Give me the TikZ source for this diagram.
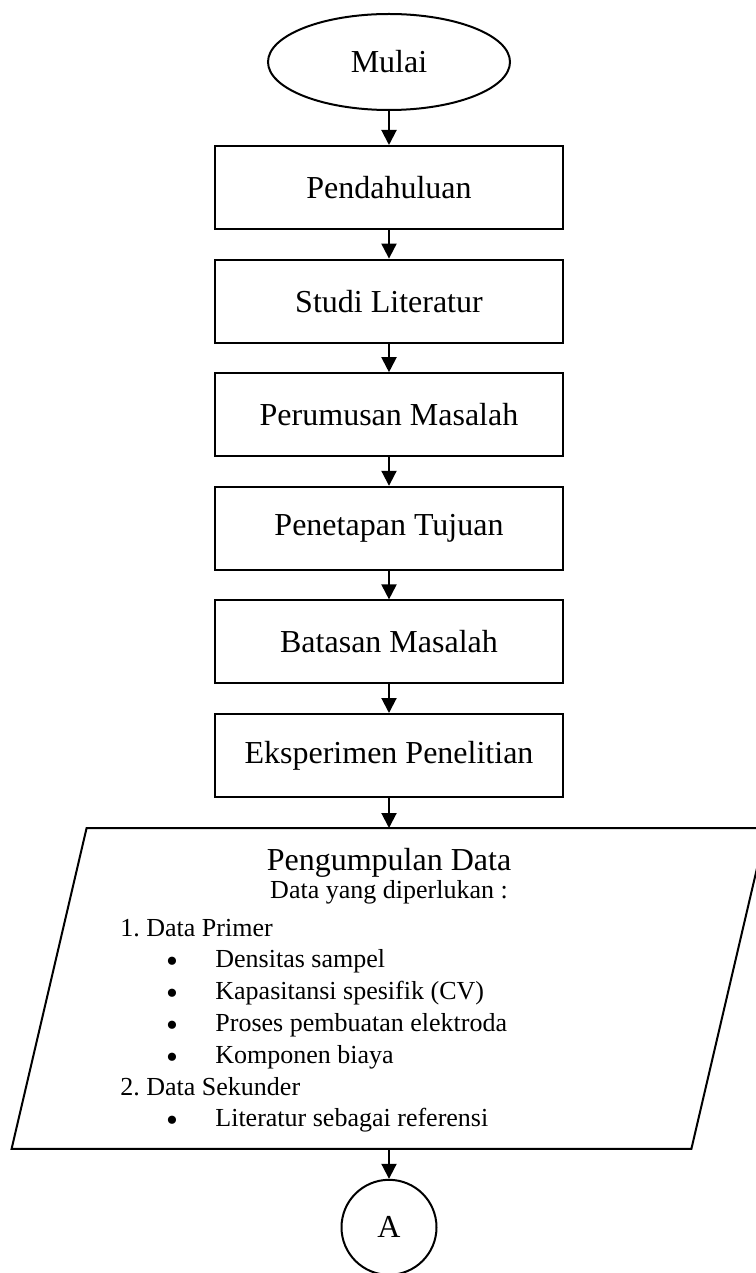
\documentclass[tikz,border=0pt]{standalone}
\usepackage{fontspec}
\setmainfont{Liberation Serif}
\usetikzlibrary{shapes.geometric, arrows.meta, positioning}

\begin{document}
\begin{tikzpicture}[x=0.5pt, y=-0.5pt, font=\fontsize{16}{19}\selectfont,
        mulaiBox/.style={draw, ellipse, line width=1pt, fill=white, minimum width=121pt, minimum height=48pt, inner sep=0pt},
        proses/.style={draw, line width=1pt, fill=white, minimum width=174pt, minimum height=41.5pt, inner sep=0pt},
        konektor/.style={draw, circle, line width=1pt, fill=white, minimum size=47.5pt, inner sep=0pt},
        alur/.style={-{Triangle[length=7.5pt, width=7.5pt]}, line width=1pt},
        isi/.style={anchor=base west, inner sep=0pt, font=\fontsize{13}{15}\selectfont}]
        \useasboundingbox (0,0) rectangle (755,1273);
        \node[mulaiBox] (mulai) at (389,62) {Mulai};
        \node[proses, below=17pt of mulai] (pend) {Pendahuluan};
        \node[proses, below=14.3pt of pend] (studi) {Studi Literatur};
        \node[proses, below=14.3pt of studi] (rumus) {Perumusan Masalah};
        \node[proses, below=14.3pt of rumus] (tujuan) {Penetapan Tujuan};
        \node[proses, below=14.3pt of tujuan] (batas) {Batasan Masalah};
        \node[proses, below=14.3pt of batas] (eks) {Eksperimen Penelitian};
        % pengumpulan data (jajar genjang)
        \node[minimum width=377pt, minimum height=160pt, inner sep=0pt, below=15pt of eks] (data) {};
        \draw[line width=1pt] ([xshift=37.5pt]data.north west) -- (data.north east)
          -- ([xshift=-37.5pt]data.south east) -- (data.south west) -- cycle;
        \node[anchor=base, inner sep=0pt] (judul) at (389,870) {Pengumpulan Data};
        \node[anchor=base, inner sep=0pt, font=\fontsize{13}{15}\selectfont] (perlu) at (389,898) {Data yang diperlukan :};
        \node[isi] (primer) at (120,936) {1.\ Data Primer};
        \node[isi] (d1) at (215,967.8) {Densitas sampel};
        \node[isi] (d2) at (215,999.6) {Kapasitansi spesifik (CV)};
        \node[isi] (d3) at (215,1031.4) {Proses pembuatan elektroda};
        \node[isi] (d4) at (215,1063.2) {Komponen biaya};
        \node[isi] (sekunder) at (120,1095) {2.\ Data Sekunder};
        \node[isi] (d5) at (215,1126.8) {Literatur sebagai referensi};
        \foreach \b in {d1,d2,d3,d4,d5}
          \node[anchor=base, inner sep=0pt, font=\fontsize{17}{20}\selectfont] at ([xshift=-21.5pt, yshift=-2.5pt]\b.base west) {\textbullet};
        \node[konektor, below=15pt of data] (a) {A};
        \draw[alur] (mulai) -- (pend);
        \draw[alur] (pend) -- (studi);
        \draw[alur] (studi) -- (rumus);
        \draw[alur] (rumus) -- (tujuan);
        \draw[alur] (tujuan) -- (batas);
        \draw[alur] (batas) -- (eks);
        \draw[alur] (eks) -- (data);
        \draw[alur] (data) -- (a);
      \end{tikzpicture}
\end{document}
